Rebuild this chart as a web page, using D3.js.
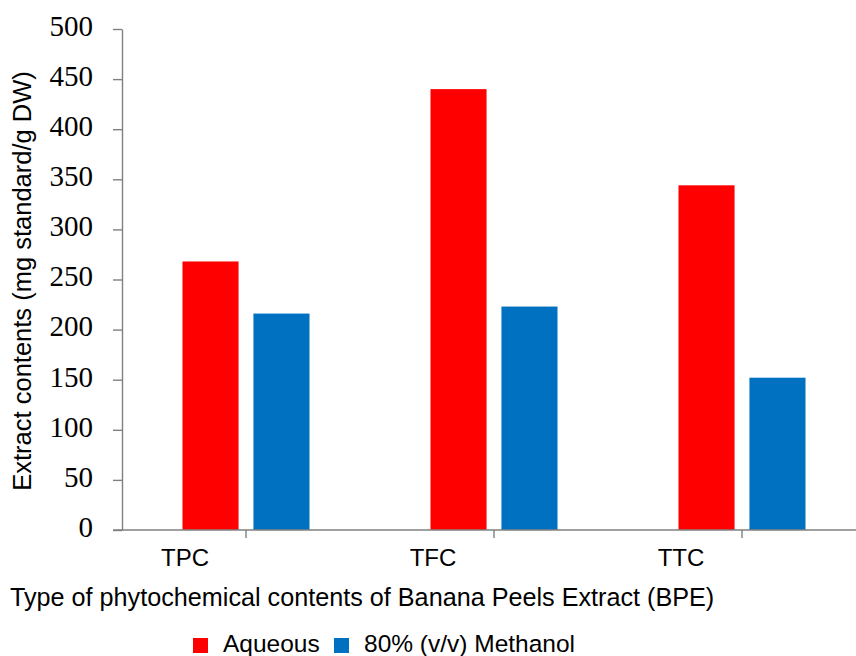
<!DOCTYPE html>
<html><head><meta charset="utf-8">
<script src="https://cdn.jsdelivr.net/npm/d3@7"></script>
<style>body{margin:0;background:#fff}svg{display:block}</style>
</head><body>
<script>
const categories = ["TPC", "TFC", "TTC"];
const seriesNames = ["Aqueous", "80% (v/v) Methanol"];
const aqueous = [268, 440, 344];
const methanol = [216, 223, 152];
const yTicks = [0, 50, 100, 150, 200, 250, 300, 350, 400, 450, 500];
const colors = ["#ff0000", "#0070c0"];

const W = 856, H = 656;
const svg = d3.select("body").append("svg").attr("width", W).attr("height", H);
const x0 = 122, x1 = 866, yTop = 29, yBot = 530;
const sans = "Liberation Sans, Arial, Helvetica, sans-serif";

const x = d3.scaleBand().domain(categories).range([x0, x1]);
const y = d3.scaleLinear().domain([0, 500]).range([yBot, yTop]);
const sub = d3.scaleBand().domain(seriesNames).range([-63.5, 63.5]).paddingInner(0.21);

const axisColor = "#808080";
// y axis
const yAxis = svg.append("g").attr("transform", `translate(${x0},0)`)
  .call(d3.axisLeft(y).tickValues(yTicks).tickSize(9).tickSizeOuter(0).tickPadding(20));
yAxis.select(".domain").attr("stroke", axisColor).attr("stroke-width", 1.4);
yAxis.selectAll(".tick line").attr("stroke", axisColor).attr("stroke-width", 1.4);
yAxis.selectAll(".tick text").attr("font-family", "Liberation Serif, Times New Roman, serif")
  .attr("font-size", 29).attr("fill", "#000").attr("dy", "0.22em");

// bars
const data = categories.map((c, i) => ({c, vals: [aqueous[i], methanol[i]]}));
const g = svg.append("g");
data.forEach(d => {
  const cx = x(d.c) + x.bandwidth() / 2;
  d.vals.forEach((v, j) => {
    g.append("rect")
      .attr("x", cx + sub(seriesNames[j]))
      .attr("y", y(v))
      .attr("width", sub.bandwidth())
      .attr("height", y(0) - y(v))
      .attr("fill", colors[j]);
  });
});

// x axis
svg.append("line").attr("x1", x0 - 9).attr("x2", W).attr("y1", yBot).attr("y2", yBot)
  .attr("stroke", axisColor).attr("stroke-width", 1.4);
categories.forEach(c => {
  const cx = x(c) + x.bandwidth() / 2;
  svg.append("line").attr("x1", cx).attr("x2", cx).attr("y1", yBot).attr("y2", yBot + 8)
    .attr("stroke", axisColor).attr("stroke-width", 1.4);
  svg.append("text").attr("x", cx - 61).attr("y", yBot + 36).attr("text-anchor", "middle")
    .attr("font-family", sans).attr("font-size", 24)
    .text(c);
});

// axis titles
svg.append("text").attr("transform", `translate(31,${281}) rotate(-90)`)
  .attr("text-anchor", "middle").attr("font-family", sans)
  .attr("font-size", 25.5).text("Extract contents (mg standard/g DW)");
svg.append("text").attr("x", 10).attr("y", 606)
  .attr("font-family", sans)
  .attr("font-size", 25.2).text("Type of phytochemical contents of Banana Peels Extract (BPE)");

// legend
const leg = svg.append("g");
const legX = [193, 334];
const legTextX = [223, 364];
seriesNames.forEach((s, j) => {
  leg.append("rect").attr("x", legX[j]).attr("y", 638).attr("width", 15).attr("height", 15).attr("fill", colors[j]);
  leg.append("text").attr("x", legTextX[j]).attr("y", 652)
    .attr("font-family", sans).attr("font-size", 24.5).text(s);
});
</script>
</body></html>
